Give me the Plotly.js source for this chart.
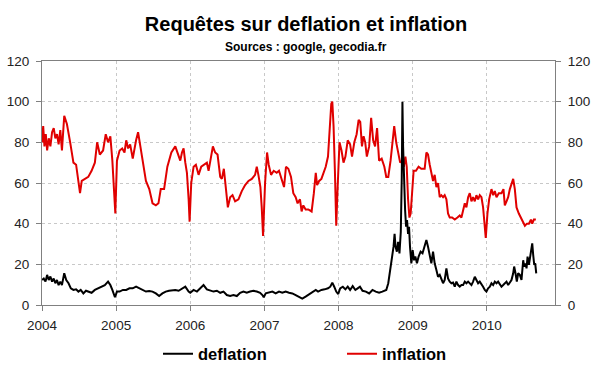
<!DOCTYPE html>
<html>
<head>
<meta charset="utf-8">
<script src="https://cdn.plot.ly/plotly-3.0.1.min.js"></script>
<style>html,body{margin:0;padding:0;background:#fff;}#chart{width:600px;height:372px;}</style>
</head>
<body>
<div id="chart"></div>
<script>
// Decimal-year positions and values
const inflationT = [
2004.002,2004.016,2004.033,2004.051,2004.069,2004.091,2004.113,2004.136,2004.158,2004.18,2004.202,2004.224,2004.247,2004.269,2004.3,2004.336,2004.38,2004.424,2004.46,2004.491,2004.513,2004.536,2004.58,2004.624,2004.669,2004.713,2004.744,2004.78,2004.824,2004.86,2004.891,2004.922,2004.949,2004.971,2004.989,2005.011,2005.047,2005.082,2005.113,2005.136,2005.162,2005.189,2005.224,2005.269,2005.296,2005.327,2005.358,2005.402,2005.447,2005.491,2005.536,2005.571,2005.602,2005.647,2005.691,2005.745,
2005.798,2005.834,2005.865,2005.888,2005.91,2005.933,2005.955,2005.978,2005.991,2006.013,2006.045,2006.076,2006.112,2006.148,2006.179,2006.224,2006.247,2006.278,2006.305,2006.336,2006.368,2006.404,2006.426,2006.453,2006.48,2006.507,2006.538,2006.57,2006.605,2006.65,2006.695,2006.74,2006.785,2006.83,2006.874,2006.897,2006.919,2006.946,2006.964,2006.982,2007.009,2007.036,2007.058,2007.09,2007.126,2007.166,2007.197,2007.233,2007.265,2007.291,2007.323,2007.359,2007.39,2007.422,2007.448,2007.48,2007.502,2007.525,2007.556,2007.592,2007.637,
2007.667,2007.693,2007.711,2007.738,2007.769,2007.8,2007.827,2007.858,2007.88,2007.902,2007.916,2007.933,2007.951,2007.969,2007.987,2008.013,2008.04,2008.067,2008.093,2008.124,2008.156,2008.182,2008.213,2008.244,2008.271,2008.293,2008.316,2008.338,2008.36,2008.382,2008.413,2008.44,2008.467,2008.493,2008.52,2008.547,2008.582,2008.618,2008.644,2008.671,2008.702,2008.733,2008.751,2008.778,2008.804,2008.831,2008.858,2008.88,2008.902,2008.92,2008.938,2008.956,2008.973,2008.991,2009.013,2009.044,2009.08,2009.116,
2009.162,2009.185,2009.207,2009.23,2009.252,2009.275,2009.297,2009.32,2009.342,2009.365,2009.387,2009.41,2009.432,2009.455,2009.477,2009.5,2009.532,2009.568,2009.604,2009.635,2009.658,2009.68,2009.703,2009.725,2009.748,2009.77,2009.793,2009.815,2009.838,2009.86,2009.883,2009.905,2009.928,2009.95,2009.973,2009.986,2010.009,2010.032,2010.063,2010.086,2010.108,2010.131,2010.162,2010.198,2010.225,2010.243,2010.266,2010.288,2010.311,2010.333,2010.356,2010.378,2010.401,2010.432,2010.459,2010.491,2010.514,2010.541,2010.568,2010.595,2010.613,2010.635,2010.662
];
const inflation = [
80,88,78,84,76,82,78,85,87,82,84,79,86,76,93,89,80,70,69,61,55,61,62,63,66,70,80,74,76,84,80,83,71,55,45,71,76,77,75,81,77,79,72,81,85,78,70,61,57,50,49,50,57,57,68,75,
78,74,71,75,77,70,65,52,41,60,68,69,64,68,69,70,66,72,78,75,74,63,62,67,58,48,53,54,51,52,56,59,61,62,64,68,64,58,48,34,60,75,69,64,66,65,66,61,58,68,67,63,55,53,50,52,46,49,47,47,46,
55,65,59,61,62,65,68,73,84,99,100,88,66,39,57,80,76,70,73,81,79,73,80,84,91,90,78,83,80,73,78,92,81,78,87,71,72,68,63,63,71,83,88,80,75,70,71,68,73,68,52,43,45,57,66,66,68,67,
67,75,74,69,64,61,64,58,60,53,54,53,54,52,45,43,43,42,43,44,43,47,50,48,53,55,51,53,51,54,52,54,53,48,37,33,45,52,57,54,56,53,55,55,57,49,51,53,57,59,62,57,48,45,43,40,39,40,40,42,40,42,42
];

const deflationT = [
2004.002,2004.024,2004.047,2004.069,2004.091,2004.113,2004.136,2004.158,2004.18,2004.202,2004.224,2004.247,2004.269,2004.3,2004.327,2004.358,2004.389,2004.424,2004.46,2004.491,2004.522,2004.558,2004.593,2004.624,2004.669,2004.713,2004.758,2004.802,2004.847,2004.891,2004.922,2004.949,2004.967,2004.984,2005.011,2005.047,2005.091,2005.136,2005.18,2005.224,2005.269,2005.313,2005.358,2005.402,2005.447,2005.491,2005.536,2005.58,2005.624,2005.669,2005.713,2005.758,
2005.798,2005.843,2005.888,2005.933,2005.978,2006.0,2006.045,2006.09,2006.135,2006.179,2006.224,2006.269,2006.314,2006.359,2006.404,2006.448,2006.493,2006.538,2006.583,2006.628,2006.673,2006.717,2006.762,2006.807,2006.852,2006.897,2006.942,2006.973,2006.991,2007.018,2007.063,2007.108,2007.152,2007.197,2007.242,2007.287,2007.332,2007.377,2007.422,2007.466,2007.511,2007.556,2007.601,
2007.658,2007.693,2007.724,2007.769,2007.813,2007.858,2007.889,2007.916,2007.942,2007.969,2007.996,2008.022,2008.058,2008.093,2008.124,2008.156,2008.191,2008.227,2008.258,2008.289,2008.324,2008.369,2008.413,2008.458,2008.502,2008.547,2008.591,2008.644,2008.671,2008.689,2008.707,2008.724,2008.742,2008.756,2008.769,2008.787,2008.804,2008.822,2008.84,2008.853,2008.862,2008.871,2008.884,2008.898,2008.911,2008.924,2008.938,2008.951,2008.964,2008.982,2009.0,2009.018,2009.036,2009.058,2009.08,2009.107,2009.133,
2009.162,2009.185,2009.207,2009.23,2009.252,2009.275,2009.297,2009.32,2009.342,2009.365,2009.387,2009.41,2009.432,2009.455,2009.477,2009.5,2009.523,2009.545,2009.568,2009.59,2009.613,2009.635,2009.658,2009.68,2009.703,2009.725,2009.748,2009.77,2009.793,2009.815,2009.838,2009.86,2009.883,2009.905,2009.928,2009.95,2009.973,2009.995,2010.018,2010.041,2010.063,2010.086,2010.108,2010.131,2010.153,2010.176,2010.198,2010.221,2010.243,2010.266,2010.288,2010.311,2010.333,2010.356,2010.369,2010.387,2010.405,2010.423,2010.446,2010.468,2010.491,2010.505,2010.523,2010.536,2010.55,2010.568,2010.586,2010.599,2010.613,2010.626,2010.64,2010.653,2010.667
];
const deflation = [
12.3,13,11.5,14.8,12.3,14,11.5,13,10.7,12.3,9.8,11.5,9.8,15.6,12.3,10.7,8.2,7.4,7.7,6.6,7.4,5.7,7,6.6,6,7.4,8.2,9,9.8,11.5,9.8,7.4,4.9,3.8,6.6,6.6,7.4,7.4,8.2,8.2,9,8.2,7.4,6.6,6.9,6.6,5.7,4.4,5.7,6.6,7,7.4,
7.4,7,8.2,9,6.6,6,7.4,6.6,8.2,9.8,7.7,7,6.6,7,6,6.6,4.9,4.4,4.9,4.4,6,6.6,6,6.6,7,6.6,6,4.9,3.8,5.7,6,6.6,5.7,6.6,6,6.6,6,5.7,4.9,3.8,3.1,4.1,5.2,
6.6,7.4,6.6,7.4,7.7,8.2,9,11,9,6.6,5.4,8.2,9,7.7,9,7.4,9.3,7.4,8.2,9,7,6.6,5.7,7.4,6.6,6,6.6,7.4,10.7,15.6,18.9,23.8,28.7,35,28.7,26.2,31,25.4,36,63,100,78,55,46.7,38.5,41.8,35,38.5,28.7,20.5,27,22,23.8,20.5,23.8,26.2,25.4,
28.7,32,28.7,23.8,20.5,26.2,20.5,17.2,13.9,14.8,12.3,10.7,12.3,18,13.1,11.5,10.7,11,9,11.5,9.8,9,9.8,9.8,11.5,10.7,11.5,10.7,9.8,11.5,13.9,12.3,10.7,11.5,9.8,9,7.4,6.6,8.2,9,10.7,9.8,11.5,10.7,11.5,9.8,9,9.8,10.7,11.5,9.8,11.5,12.3,15.6,18.9,15.6,11.5,15.6,14.8,12.3,22,18.9,20.5,18,23.8,19.7,23.8,28.7,30.3,24.6,19.7,20.5,15.6
];

const yearTicks = [2004,2005,2006,2007,2008,2009,2010];
const yTicks = [0,20,40,60,80,100,120];
const seriesNames = ['deflation','inflation'];
const seriesColors = ['#000000','#e00000'];

const FONT = 'Arial, "Liberation Sans", sans-serif';
const gridStyle = {showgrid:true, gridcolor:'#c8c8c8', griddash:'dot', gridwidth:1};

const traces = [
  {x: inflationT, y: inflation, type:'scatter', mode:'lines', name: seriesNames[1],
   line:{color: seriesColors[1], width:2}, yaxis:'y', legendrank:2, hoverinfo:'x+y'},
  {x: deflationT, y: deflation, type:'scatter', mode:'lines', name: seriesNames[0],
   line:{color: seriesColors[0], width:2}, yaxis:'y2', legendrank:1, hoverinfo:'x+y'}
];

const axisCommon = {
  showline:true, linecolor:'#808080', linewidth:1,
  ticks:'outside', ticklen:5, tickcolor:'#808080', tickwidth:1,
  tickfont:{family:FONT, size:13.5, color:'#222'}, zeroline:false, automargin:false
};

const layout = {
  width:600, height:372,
  margin:{l:42, r:45, t:61, b:67, pad:0, autoexpand:false},
  paper_bgcolor:'#ffffff', plot_bgcolor:'#ffffff',
  font:{family:FONT, color:'#000'},
  title:{text:'Requêtes sur deflation et inflation', x:306/600, xanchor:'center',
         y:1-24/372, yanchor:'middle', yref:'container', xref:'container',
         font:{family:FONT, size:20, weight:'bold', color:'#000'}},
  annotations:[{text:'Sources : google, gecodia.fr', xref:'paper', yref:'paper',
    x:(306-42)/513, y:1+(61-47)/244, xanchor:'center', yanchor:'middle', showarrow:false,
    font:{family:FONT, size:12, weight:'bold', color:'#000'}}],
  xaxis:Object.assign({}, axisCommon, gridStyle, {
    range:[2004, 2010.92], tickvals:yearTicks, ticktext:yearTicks.map(String),
    mirror:true, ticklabelstandoff:3
  }),
  yaxis:Object.assign({}, axisCommon, gridStyle, {
    range:[0,120], tickvals:yTicks, side:'left', ticklabelstandoff:4
  }),
  yaxis2:Object.assign({}, axisCommon, {
    range:[0,120], tickvals:yTicks, side:'right', overlaying:'y', showgrid:false, ticklabelstandoff:4
  }),
  showlegend:true,
  legend:{orientation:'h', xref:'container', yref:'container', x:158/600, xanchor:'left', y:1-354/372, yanchor:'middle',
    font:{family:FONT, size:16.5, weight:'bold', color:'#000'},
    entrywidth:139, entrywidthmode:'pixels', itemwidth:30, traceorder:'normal', bgcolor:'rgba(0,0,0,0)'}
};

Plotly.newPlot('chart', traces, layout, {displayModeBar:false, staticPlot:true});
</script>
</body>
</html>
